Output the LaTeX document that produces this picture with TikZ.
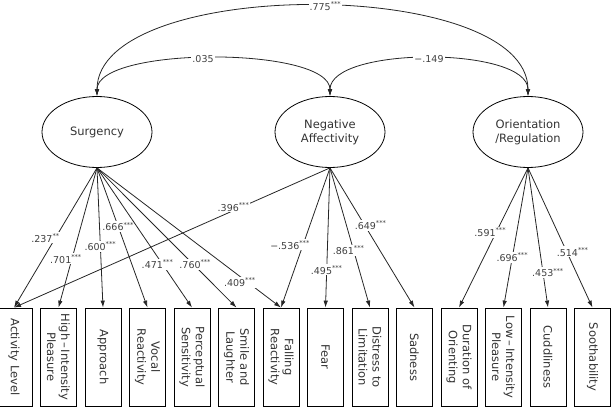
\documentclass[tikz,border=0pt]{standalone}
\usepackage{fontspec}
\setmainfont{DejaVu Sans}
\usetikzlibrary{arrows.meta}
\usetikzlibrary{shapes.geometric}
\newcommand{\stars}[1]{\textsuperscript{#1}}
\tikzset{
  factor/.style={draw, ellipse, line width=0.8pt, minimum width=110pt, minimum height=71pt,
    align=center, font=\fontsize{11.5}{14}\selectfont, text=black!80},
  indicator/.style={draw, line width=0.8pt, rotate=-90, minimum width=98pt, minimum height=36pt,
    align=center, inner sep=1pt, font=\fontsize{11.5}{14}\selectfont, text=black!80},
  est/.style={fill=white, inner sep=1pt, font=\fontsize{9.5}{11}\selectfont, text=black!75},
  load/.style={-{Latex[length=7pt,width=4.5pt]}, line width=0.8pt, black!85},
  cov/.style={{Latex[length=7pt,width=4.5pt]}-{Latex[length=7pt,width=4.5pt]}, line width=0.8pt, black!85}
}

\begin{document}
\begin{tikzpicture}[x=1pt,y=-1pt]
  \clip (0,0) rectangle (611,414);
  % latent factors
  \node[factor] (surg) at (97,132) {Surgency};
  \node[factor] (neg) at (330,132) {Negative\\Affectivity};
  \node[factor] (orient) at (528,132) {Orientation\\/Regulation};

  % observed scales
  \node[indicator] (act) at (14,357) {Activity Level};
  \node[indicator] (hip) at (58.5,357) {High\,–\,Intensity\\Pleasure};
  \node[indicator] (appr) at (103,357) {Approach};
  \node[indicator] (vocal) at (147.5,357) {Vocal\\Reactivity};
  \node[indicator] (perc) at (192,357) {Perceptual\\Sensitivity};
  \node[indicator] (smile) at (236.5,357) {Smile and\\Laughter};
  \node[indicator] (fall) at (281,357) {Falling\\Reactivity};
  \node[indicator] (fear) at (325.5,357) {Fear};
  \node[indicator] (dist) at (370,357) {Distress to\\Limitation};
  \node[indicator] (sad) at (414.5,357) {Sadness};
  \node[indicator] (dur) at (459,357) {Duration of\\Orienting};
  \node[indicator] (lip) at (503.5,357) {Low\,–\,Intensity\\Pleasure};
  \node[indicator] (cuddle) at (548,357) {Cuddliness};
  \node[indicator] (sooth) at (592.5,357) {Soothability};

  % factor correlations
  \draw[cov] (surg.north) .. controls +(0,-120) and +(0,-120) .. (orient.north)
    node[est, pos=0.52] {.775\stars{***}};
  \draw[cov] (surg.north) .. controls +(0,-50) and +(0,-50) .. (neg.north)
    node[est, pos=0.47] {.035};
  \draw[cov] (neg.north) .. controls +(0,-50) and +(0,-50) .. (orient.north)
    node[est, pos=0.5] {−.149};

  % loadings
  \draw[load] (surg.south) -- (act.west) node[est, pos=0.5, xshift=-10] {.237\stars{**}};
  \draw[load] (surg.south) -- (hip.west) node[est, pos=0.65, xshift=-6] {.701\stars{***}};
  \draw[load] (surg.south) -- (appr.west) node[est, pos=0.56] {.600\stars{***}};
  \draw[load] (surg.south) -- (vocal.west) node[est, pos=0.42] {.666\stars{***}};
  \draw[load] (surg.south) -- (perc.west) node[est, pos=0.69, xshift=-5] {.471\stars{***}};
  \draw[load] (surg.south) -- (smile.west) node[est, pos=0.69, xshift=2] {.760\stars{***}};
  \draw[load] (surg.south) -- (fall.west) node[est, pos=0.82, xshift=-8] {.409\stars{***}};
  \draw[load] (neg.south) -- (act.west) node[est, pos=0.28, xshift=-8] {.396\stars{***}};
  \draw[load] (neg.south) -- (fall.west) node[est, pos=0.55, xshift=-13] {−.536\stars{***}};
  \draw[load] (neg.south) -- (fear.west) node[est, pos=0.73] {.495\stars{***}};
  \draw[load] (neg.south) -- (dist.west) node[est, pos=0.59, xshift=-5] {.861\stars{***}};
  \draw[load] (neg.south) -- (sad.west) node[est, pos=0.41, xshift=6] {.649\stars{***}};
  \draw[load] (orient.south) -- (dur.west) node[est, pos=0.46, xshift=-6] {.591\stars{***}};
  \draw[load] (orient.south) -- (lip.west) node[est, pos=0.64] {.696\stars{***}};
  \draw[load] (orient.south) -- (cuddle.west) node[est, pos=0.75, xshift=5] {.453\stars{***}};
  \draw[load] (orient.south) -- (sooth.west) node[est, pos=0.6, xshift=6] {.514\stars{***}};
\end{tikzpicture}
\end{document}
